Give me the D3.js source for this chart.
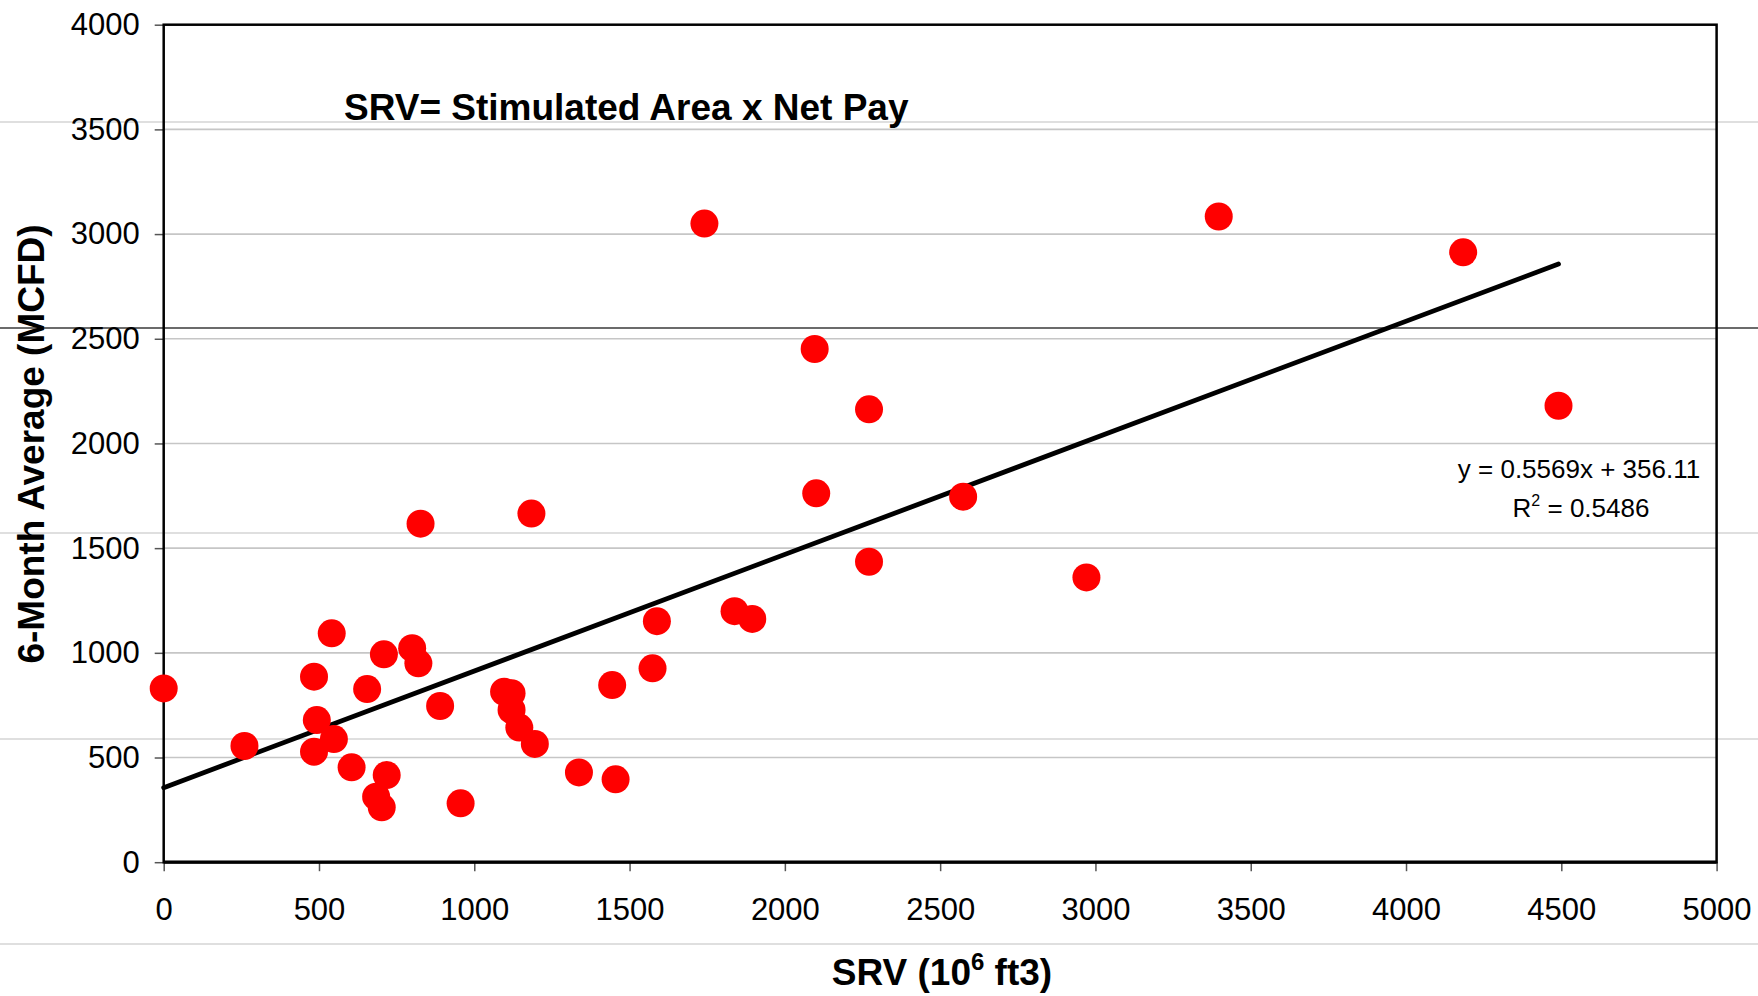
<!DOCTYPE html>
<html><head><meta charset="utf-8">
<script src="https://cdn.jsdelivr.net/npm/d3@7"></script>
<style>
body{margin:0;background:#fff}
svg{display:block}
text{font-family:"Liberation Sans",Arial,Helvetica,sans-serif;fill:#000}
</style>
</head><body>
<svg id="c" width="1758" height="996"></svg>
<script>
// ---- data ----
const srv  = [0, 260, 484, 493, 484, 541, 548, 605, 655, 709, 718, 684, 702, 800, 820, 827, 890, 956,
              1096, 1120, 1120, 1145, 1195, 1184, 1337, 1444, 1455, 1574, 1588, 1741, 1838, 1895,
              2096, 2101, 2271, 2271, 2574, 2971, 3397, 4184, 4491];
const avg6 = [830, 555, 886, 679, 528, 1093, 588, 453, 827, 993, 416, 313, 262, 1022, 950, 1617, 746, 281,
              814, 807, 727, 643, 565, 1665, 429, 846, 396, 926, 1151, 3050, 1199, 1162,
              2451, 1762, 2163, 1435, 1746, 1360, 3084, 2913, 2180];
const xTicks = [0, 500, 1000, 1500, 2000, 2500, 3000, 3500, 4000, 4500, 5000];
const yTicks = [0, 500, 1000, 1500, 2000, 2500, 3000, 3500, 4000];
const trendSlope = 0.5569, trendIntercept = 356.11;
const eqLabel = "y = 0.5569x + 356.11";
const r2Label = "0.5486";
const noteLabel = "SRV= Stimulated Area x Net Pay";
const yTitle = "6-Month Average (MCFD)";
// faint scan lines crossing the whole picture (in y-axis units)
const scanLight = [3535, 1572, 588, -391];
const scanDark = [2551];

// ---- layout ----
const W = 1758, H = 996;
const L = 163.7, R = 1716.6, T = 24.7, B = 862.2;
const svg = d3.select("#c");
const x = d3.scaleLinear().domain([0, 5000]).range([L, R]);
const y = d3.scaleLinear().domain([0, 4000]).range([B, T]);

svg.append("rect").attr("width", W).attr("height", H).attr("fill", "#fff");

// gridlines
svg.append("g").selectAll("line").data(yTicks.filter(v => v > 0 && v < 4000)).join("line")
  .attr("x1", L).attr("x2", R).attr("y1", d => y(d)).attr("y2", d => y(d))
  .attr("stroke", "#c6c6c6").attr("stroke-width", 1.6);

// scan lines
svg.append("g").selectAll("line").data(scanLight).join("line")
  .attr("x1", 0).attr("x2", W).attr("y1", d => y(d)).attr("y2", d => y(d))
  .attr("stroke", "#d4d4d4").attr("stroke-width", 1.5);
svg.append("g").selectAll("line").data(scanDark).join("line")
  .attr("x1", 0).attr("x2", W).attr("y1", d => y(d)).attr("y2", d => y(d))
  .attr("stroke", "#3a3a3a").attr("stroke-width", 1.5);

// axes
const yAxis = svg.append("g").attr("transform", `translate(${L},0)`)
  .call(d3.axisLeft(y).tickValues(yTicks).tickSize(9).tickPadding(15).tickFormat(d3.format("d")));
const xAxis = svg.append("g").attr("transform", `translate(0,${B})`)
  .call(d3.axisBottom(x).tickValues(xTicks).tickSize(9).tickPadding(27).tickFormat(d3.format("d")));
[yAxis, xAxis].forEach(g => {
  g.select(".domain").remove();
  g.selectAll(".tick line").attr("stroke", "#555").attr("stroke-width", 1.5);
  g.selectAll(".tick text").attr("font-size", 31).attr("fill", "#000")
    .style("font-family", '"Liberation Sans",Arial,sans-serif');
});

// plot border
svg.append("rect").attr("x", L).attr("y", T).attr("width", R - L).attr("height", B - T)
  .attr("fill", "none").attr("stroke", "#000").attr("stroke-width", 2.5);
svg.append("line").attr("x1", L).attr("x2", R).attr("y1", B).attr("y2", B)
  .attr("stroke", "#000").attr("stroke-width", 3.2);

// trend line
const xMax = d3.max(srv);
svg.append("path")
  .datum([0, xMax])
  .attr("d", d3.line().x(d => x(d)).y(d => y(trendSlope * d + trendIntercept)))
  .attr("stroke", "#000").attr("stroke-width", 4.8).attr("fill", "none").attr("stroke-linecap", "round");

// points
svg.append("g").selectAll("circle").data(srv.map((v, i) => [v, avg6[i]])).join("circle")
  .attr("cx", d => x(d[0])).attr("cy", d => y(d[1])).attr("r", 14).attr("fill", "#ff0000");

// annotation title
svg.append("text").attr("x", 344).attr("y", 120).attr("font-size", 37).attr("font-weight", "bold")
  .text(noteLabel);

// equation
svg.append("text").attr("x", 1579).attr("y", 478).attr("font-size", 26).attr("text-anchor", "middle")
  .text(eqLabel);
const r2 = svg.append("text").attr("x", 1581).attr("y", 517).attr("font-size", 26).attr("text-anchor", "middle");
r2.append("tspan").text("R");
r2.append("tspan").attr("font-size", 16).attr("dy", -11).text("2");
r2.append("tspan").attr("dy", 11).text(" = " + r2Label);

// axis titles
const xt = svg.append("text").attr("x", 942).attr("y", 985).attr("font-size", 37)
  .attr("font-weight", "bold").attr("text-anchor", "middle");
xt.append("tspan").text("SRV (10");
xt.append("tspan").attr("font-size", 24).attr("dy", -15).text("6");
xt.append("tspan").attr("dy", 15).text(" ft3)");

svg.append("text").attr("transform", "translate(44,444) rotate(-90)").attr("font-size", 37)
  .attr("font-weight", "bold").attr("text-anchor", "middle").text(yTitle);
</script>
</body></html>
